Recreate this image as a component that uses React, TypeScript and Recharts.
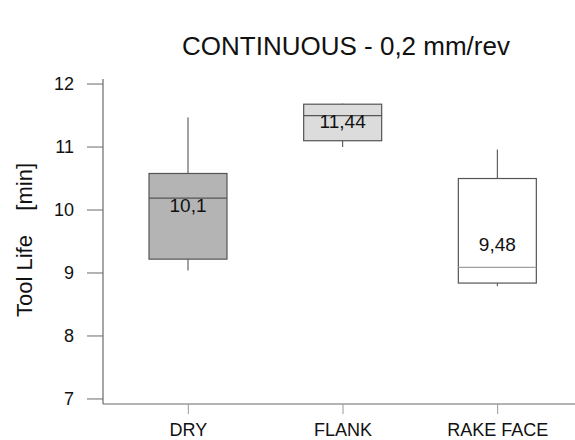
import { ComposedChart, Bar, XAxis, YAxis } from 'recharts';

const categories = ['DRY', 'FLANK', 'RAKE FACE'];
const whiskerLow = [9.04, 11.0, 8.79];
const q1 = [9.22, 11.1, 8.84];
const median = [10.19, 11.5, 9.09];
const q3 = [10.58, 11.68, 10.5];
const whiskerHigh = [11.47, 11.69, 10.96];
const means = [10.1, 11.44, 9.48];
const yTicks = [7, 8, 9, 10, 11, 12];

const fills = ['#b4b4b4', '#dcdcdc', '#ffffff'];
const medianColors = ['#555555', '#555555', '#a0a0a0'];
const font = '"Liberation Sans", Arial, sans-serif';
const axisColor = '#6a6a6a';

const data = categories.map((name, i) => ({
  name,
  box: [q1[i], q3[i]],
  lo: whiskerLow[i],
  q1: q1[i],
  med: median[i],
  q3: q3[i],
  hi: whiskerHigh[i],
  mean: means[i],
  idx: i,
}));

function BoxShape(props: any) {
  const { x, y, width, height, payload } = props;
  const ratio = height / (payload.q3 - payload.q1);
  const toY = (v: number) => y + (payload.q3 - v) * ratio;
  const cx = x + width / 2;
  const i = payload.idx;
  return (
    <g>
      <line x1={cx} x2={cx} y1={toY(payload.hi)} y2={y} stroke="#444" strokeWidth={1} />
      <line x1={cx} x2={cx} y1={y + height} y2={toY(payload.lo)} stroke="#444" strokeWidth={1} />
      <rect x={x} y={y} width={width} height={height} fill={fills[i]} stroke="#555" strokeWidth={1.2} />
      <line x1={x} x2={x + width} y1={toY(payload.med)} y2={toY(payload.med)} stroke={medianColors[i]} strokeWidth={1.2} />
      <text
        x={cx}
        y={toY(payload.mean)}
        dy={2}
        textAnchor="middle"
        dominantBaseline="central"
        fontFamily={font}
        fontSize={19}
        fill="#111"
      >
        {String(payload.mean).replace('.', ',')}
      </text>
    </g>
  );
}

export default function App() {
  return (
    <div style={{ position: 'absolute', left: 0, top: 0, width: 575, height: 440, background: '#fff' }}>
      <div
        style={{
          position: 'absolute',
          left: 346,
          top: 31,
          transform: 'translateX(-50%)',
          whiteSpace: 'nowrap',
          fontFamily: font,
          fontSize: 26,
          color: '#111',
          lineHeight: '30px',
        }}
      >
        CONTINUOUS - 0,2 mm/rev
      </div>
      <ComposedChart
        width={575}
        height={440}
        data={data}
        margin={{ top: 79, right: 0, bottom: 0, left: 0 }}
      >
        <XAxis
          xAxisId="top"
          dataKey="name"
          orientation="top"
          height={0}
          tick={false}
          tickLine={false}
          axisLine={{ stroke: axisColor, strokeWidth: 1.2 }}
          padding={{ left: 8, right: 0 }}
        />
        <XAxis
          dataKey="name"
          height={36}
          padding={{ left: 8, right: 0 }}
          tickSize={10}
          tickMargin={9}
          tickLine={{ stroke: '#999' }}
          axisLine={{ stroke: axisColor, strokeWidth: 1.2 }}
          tick={{ fontFamily: font, fontSize: 18, fill: '#111' }}
        />
        <YAxis
          type="number"
          domain={[6.92, 12.08]}
          ticks={yTicks}
          allowDataOverflow
          width={103}
          tickSize={16}
          tickMargin={13}
          tickLine={{ stroke: axisColor }}
          axisLine={{ stroke: axisColor, strokeWidth: 1.2 }}
          tick={{ fontFamily: font, fontSize: 18, fill: '#111' }}
          label={{
            content: () => (
              <text
                x={24}
                y={240}
                transform="rotate(-90 24 240)"
                textAnchor="middle"
                dominantBaseline="central"
                fontFamily={font}
                fontSize={22}
                fill="#111"
                style={{ whiteSpace: 'pre' }}
              >
                {'Tool Life    [min]'}
              </text>
            ),
          }}
        />
        <Bar dataKey="box" barSize={78} shape={<BoxShape />} isAnimationActive={false} />
      </ComposedChart>
    </div>
  );
}
